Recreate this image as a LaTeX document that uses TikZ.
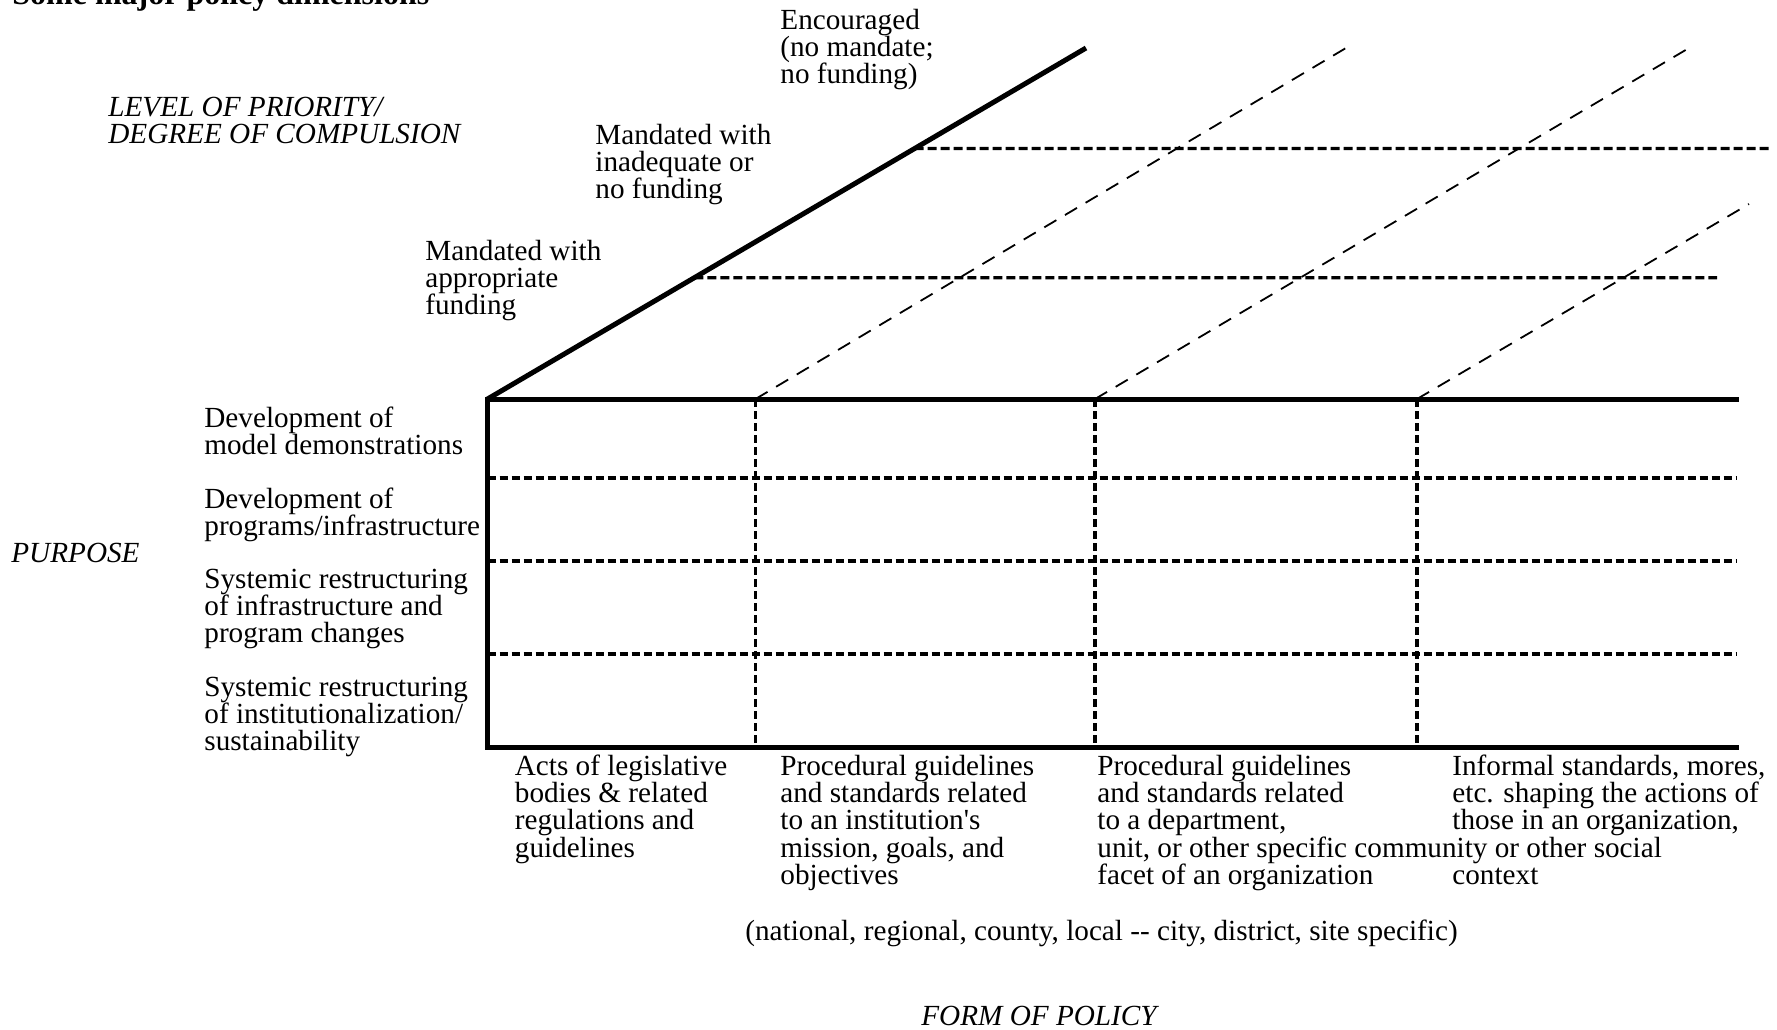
\documentclass[tikz,border=0pt]{standalone}
\usepackage{fontspec}
\setmainfont{Liberation Serif}
\usetikzlibrary{calc}
\begin{document}
\begin{tikzpicture}[x=0.5pt,y=-0.5pt,
  lbl/.style={anchor=base west, inner sep=0pt, align=left, font=\fontsize{14.6}{13.6}\selectfont},
  axis/.style={lbl, font=\fontsize{14.6}{13.6}\selectfont\itshape},
  thickline/.style={line width=2.5pt, line cap=rect},
  griddash/.style={line width=1.8pt, dash pattern=on 4pt off 2pt},
  diagdash/.style={line width=0.9pt, dash pattern=on 7pt off 5pt},
  leveldash/.style={line width=1.7pt, dash pattern=on 4.5pt off 2pt}]
\clip (0,0) rectangle (1777,1029);
\useasboundingbox (0,0) rectangle (1777,1029);

% key points
\coordinate (TL) at (487.5,399);
\coordinate (BL) at (487.5,747);
\coordinate (TR) at (1736,399);
\coordinate (BR) at (1736,747);
\coordinate (Dtop) at (1086,48);
\coordinate (V1t) at (755.5,399); \coordinate (V1b) at (755.5,747);
\coordinate (V2t) at (1095,399); \coordinate (V2b) at (1095,747);
\coordinate (V3t) at (1417,399); \coordinate (V3b) at (1417,747);
\coordinate (H1l) at (487.5,478); \coordinate (H1r) at (1736,478);
\coordinate (H2l) at (487.5,561); \coordinate (H2r) at (1736,561);
\coordinate (H3l) at (487.5,654); \coordinate (H3r) at (1736,654);
\coordinate (L1l) at ($(TL)!0.7137!(Dtop)$); \coordinate (L1r) at (1772,148.5);
\coordinate (L2l) at ($(TL)!0.3456!(Dtop)$); \coordinate (L2r) at (1717,277.7);
\coordinate (P1) at (1351,45);
\coordinate (P2) at (1689,48);
\coordinate (P3) at (1749,204);

% title (mostly cut off at top)
\node[anchor=base west, inner sep=0pt, font=\fontsize{16}{19}\selectfont\bfseries] (title) at (12,4) {Some major policy dimensions};

% upper level lines
\draw[leveldash] (L1l) -- (L1r);
\draw[leveldash] (L2l) -- (L2r);
\draw[diagdash] (V1t) -- (P1);
\draw[diagdash] (V2t) -- (P2);
\draw[diagdash] (V3t) -- (P3);
\draw[line width=2.5pt] (TL) -- (Dtop);

% grid
\draw[griddash] (H1l) -- (H1r);
\draw[griddash] (H2l) -- (H2r);
\draw[griddash] (H3l) -- (H3r);
\draw[griddash] (V1t) -- (V1b);
\draw[griddash] (V2t) -- (V2b);
\draw[griddash] (V3t) -- (V3b);
\draw[thickline] (TR) -- (TL) -- (BL) -- (BR);

% axis titles (anchor = baseline of last line)
\node[axis] (lev) at (108,143.2) {LEVEL OF PRIORITY/\\DEGREE OF COMPULSION};
\node[axis] (purp) at (11,562) {PURPOSE};
\node[axis, anchor=base] (form) at (1039,1025) {FORM OF POLICY};

% level labels
\node[lbl] (enc) at (780,83.4) {Encouraged\\(no mandate;\\no funding)};
\node[lbl] (inad) at (595,198.9) {Mandated with\\inadequate or\\no funding};
\node[lbl] (appr) at (425,314.4) {Mandated with\\appropriate\\funding};

% purpose labels
\node[lbl] (r1) at (204,454.7) {Development of\\model demonstrations};
\node[lbl] (r2) at (204,535.2) {Development of\\programs/infrastructure};
\node[lbl] (r3) at (204,642.9) {Systemic restructuring\\of infrastructure and\\program changes};
\node[lbl] (r4) at (204,750.9) {Systemic restructuring\\of institutionalization/\\sustainability};

% form labels
\node[lbl] (c1) at (514.5,857.1) {Acts of legislative\\bodies \& related\\regulations and\\guidelines};
\node[lbl] (c2) at (780,884.3) {Procedural guidelines\\and standards related\\to an institution\textquotesingle s\\mission, goals, and\\objectives};
\node[lbl] (c3) at (1097,884.3) {Procedural guidelines\\and standards related\\to a department,\\unit, or other specific community or other social\\facet of an organization};
\node[lbl] (c4) at (1452,884.3) {Informal standards, mores,\\etc. shaping the actions of\\those in an organization,\\\phantom{x}\\context};
\node[lbl, anchor=base] (scope) at (1101.5,940) {(national, regional, county, local {-}{-} city, district, site specific)};
\end{tikzpicture}
\end{document}
